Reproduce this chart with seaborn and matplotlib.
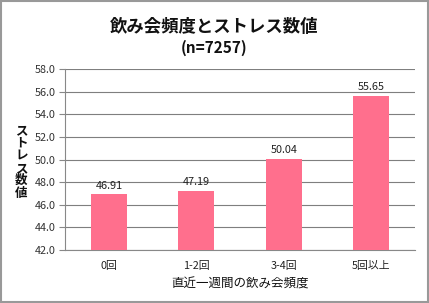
import matplotlib
matplotlib.use("Agg")
import matplotlib.pyplot as plt
import seaborn as sns
import pandas as pd
import numpy as np
from matplotlib.patches import Rectangle

categories = ["0回", "1-2回", "3-4回", "5回以上"]
values = [46.91, 47.19, 50.04, 55.65]
yticks = [42.0, 44.0, 46.0, 48.0, 50.0, 52.0, 54.0, 56.0, 58.0]

sns.set_style("white")
plt.rcParams['font.family'] = ['Noto Sans CJK JP', 'DejaVu Sans']

df = pd.DataFrame({"cat": categories, "val": values})

fig = plt.figure(figsize=(4.29, 3.03), dpi=100)
fig.patch.set_facecolor("white")
fig.add_artist(Rectangle((0.002, 0.003), 0.995, 0.993, transform=fig.transFigure,
                         fill=False, edgecolor="#999999", linewidth=1.5))
ax = fig.add_axes([0.152, 0.175, 0.815, 0.597])

sns.barplot(data=df, x="cat", y="val", color="#FF6F8D", width=0.41, ax=ax,
            saturation=1, zorder=3)
for p in ax.patches:
    p.set_edgecolor("none")

ax.set_ylim(42, 58)
ax.set_yticks(yticks)
ax.set_yticklabels([f"{t:.1f}" for t in yticks], fontsize=7.8, color="#333333")
ax.set_xlim(-0.5, 3.5)
ax.set_xticks(range(4))
ax.set_xticklabels(categories, fontsize=7.8, color="#222222")
ax.set_xticks([-0.5, 0.5, 1.5, 2.5, 3.5], minor=True)
ax.tick_params(axis="x", which="major", length=0, pad=8)
ax.tick_params(axis="x", which="minor", length=4, color="#888888", direction="out")
ax.tick_params(axis="y", length=4, color="#888888", direction="out", pad=3, left=True)

ax.grid(axis="y", color="#7f7f7f", linewidth=0.8, zorder=0)
ax.set_axisbelow(True)
for s in ["top", "right"]:
    ax.spines[s].set_visible(False)
ax.spines["left"].set_color("#888888")
ax.spines["bottom"].set_color("#888888")
ax.spines["left"].set_linewidth(0.8)
ax.spines["bottom"].set_linewidth(0.8)

for i, v in enumerate(values):
    ax.text(i, v + 0.35, f"{v:.2f}", ha="center", va="bottom", fontsize=7.8, color="#222222")

ax.set_xlabel("直近一週間の飲み会頻度", fontsize=9, labelpad=5, color="#111111")
ax.set_ylabel("")
fig.text(0.05, 0.465, "\n".join("ストレス数値"), ha="center", va="center",
         fontsize=9, fontweight="bold", linespacing=0.95, color="#111111")

fig.text(0.5, 0.912, "飲み会頻度とストレス数値", ha="center", va="center",
         fontsize=12.5, fontweight="bold", color="#111111")
fig.text(0.5, 0.843, "(n=7257)", ha="center", va="center",
         fontsize=11, fontweight="bold", color="#111111")

fig.savefig("out.png", dpi=100, facecolor="white")
